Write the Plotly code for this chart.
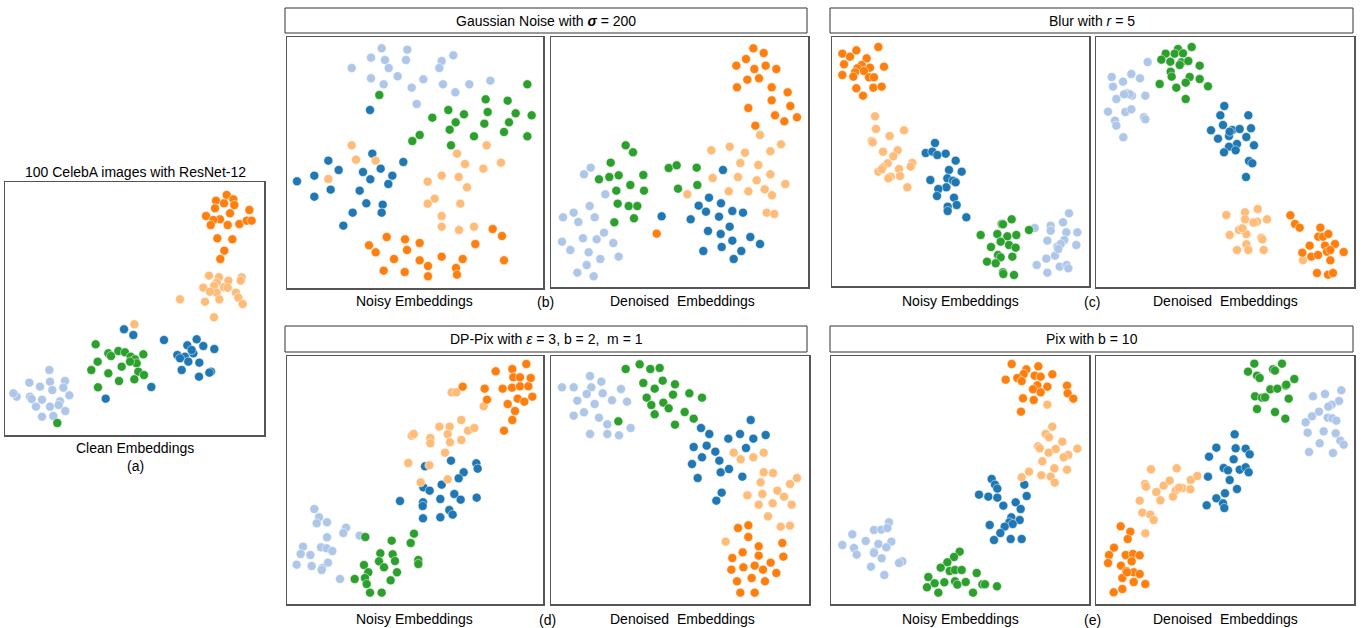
import plotly.graph_objects as go

# ---------------- data (embedding coordinates) ----------------
# Panel (a): clean embeddings
a_orange = [(680,105),(648,122),(672,130),(700,118),(703,135),(645,145),(690,160),(618,168),(660,178),(640,180),
            (748,150),(632,195),(683,195),(718,192),(740,182),(755,182),(652,235),(697,238),(673,272),(661,297)]
a_lorange = [(627,347),(657,352),(650,368),(685,362),(725,352),(722,362),(610,383),(642,378),(672,382),(683,383),
             (650,398),(658,418),(615,425),(708,398),(715,413),(728,432),(540,418),(642,472),(403,493),(630,395)]
a_blue = [(372,508),(400,525),(492,540),(590,538),(562,556),(610,558),(643,567),(532,585),(555,590),(580,580),
          (540,595),(598,608),(545,630),(565,605),(633,635),(597,650),(454,681),(317,716),(575,570),(628,638)]
a_green = [(287,553),(325,580),(355,573),(375,577),(333,588),(430,583),(392,590),(405,598),(293,605),(365,620),
           (410,610),(274,630),(325,640),(415,635),(432,645),(357,663),(403,658),(294,682),(172,789),(390,605)]
a_lblue = [(148,630),(88,668),(150,665),(195,663),(120,680),(157,690),(190,683),(50,710),(90,710),(95,717),
           (126,719),(208,706),(180,724),(108,740),(150,740),(176,735),(196,753),(126,770),(160,768),(40,700)]

# Panel (b) noisy
bn_lblue = [(290,40),(367,44),(258,68),(300,75),(363,75),(505,61),(470,78),(200,99),(311,99),(463,99),
            (338,124),(258,130),(415,133),(296,148),(380,158),(474,148),(553,148),(616,137),(511,172),(395,207)]
bn_green = [(727,148),(283,180),(602,193),(668,197),(490,225),(537,238),(608,231),(692,235),(740,241),(442,248),
            (512,262),(598,266),(672,262),(494,284),(657,291),(404,300),(567,304),(727,304),(382,318),(498,331)]
bn_blue = [(255,225),(262,356),(130,377),(355,381),(161,405),(287,401),(234,411),(88,422),(322,422),(36,439),
           (256,433),(310,447),(137,464),(224,467),(88,485),(244,505),(293,509),(203,533),(290,533),(175,572)]
bn_lorange = [(200,331),(605,331),(516,356),(213,374),(272,377),(540,387),(648,383),(595,401),(130,432),(470,422),
              (521,426),(428,440),(546,457),(449,491),(428,506),(526,506),(470,543),(470,575),(522,585),(567,575)]
bn_orange = [(623,582),(651,603),(305,606),(360,613),(404,624),(571,627),(252,631),(366,645),(272,652),(327,672),
             (404,676),(470,665),(533,672),(657,676),(429,693),(513,699),(296,707),(359,711),(429,724),(516,719)]

# Panel (b) denoised
bd_orange = [(616,40),(647,54),(594,72),(565,92),(619,102),(653,92),(685,102),(598,134),(633,130),(567,157),
             (671,157),(719,172),(671,196),(727,213),(601,219),(681,241),(709,259),(747,247),(622,272),(326,596)]
bd_lorange = [(636,300),(545,335),(490,346),(591,353),(699,328),(667,349),(577,384),(631,390),(494,429),(570,426),
              (667,418),(626,436),(712,447),(542,469),(601,469),(650,463),(672,481),(418,478),(656,533),(679,537)]
bd_green = [(233,331),(255,352),(188,383),(153,433),(184,426),(212,421),(286,420),(247,450),(205,467),(288,467),
            (209,506),(242,513),(268,513),(258,550),(199,562),(362,399),(386,391),(446,398),(390,461),(448,450)]
bd_blue = [(525,405),(483,488),(452,512),(519,505),(474,530),(513,545),(553,528),(585,533),(341,544),(428,553),
           (545,575),(480,588),(518,597),(553,617),(607,606),(636,627),(466,648),(521,636),(580,648),(557,672)]
bd_lblue = [(128,398),(108,418),(172,478),(125,513),(45,547),(77,533),(91,561),(140,547),(168,593),(105,610),
            (146,613),(42,620),(67,645),(122,652),(196,624),(157,672),(212,665),(116,690),(88,713),(137,724)]

# Panel (c) noisy
cn_orange = [(148,36),(40,56),(82,46),(63,65),(113,70),(45,88),(98,90),(85,100),(123,98),(165,95),
             (105,108),(78,112),(40,120),(73,125),(120,127),(135,127),(82,160),(133,158),(158,155),(102,182)]
cn_lorange = [(138,244),(141,282),(225,286),(182,303),(128,318),(131,322),(206,346),(162,350),(193,364),(176,385),
              (250,384),(245,395),(162,397),(148,410),(210,402),(185,425),(213,423),(178,430),(235,457),(158,403)]
cn_blue = [(318,324),(290,354),(310,350),(325,360),(350,356),(380,377),(398,410),(360,405),(355,430),(372,437),
           (380,442),(304,435),(352,457),(328,462),(324,483),(375,488),(383,510),(356,515),(356,528),(412,547)]
cn_green = [(548,553),(518,567),(522,568),(600,585),(455,600),(505,597),(535,604),(562,600),(515,620),(540,630),
            (486,636),(560,638),(507,660),(550,665),(515,667),(474,680),(500,685),(522,712),(555,720),(523,717)]
cn_lblue = [(720,535),(617,579),(665,572),(702,562),(745,592),(665,587),(712,592),(655,617),(706,615),(685,635),
            (742,630),(695,627),(678,662),(652,671),(623,690),(692,695),(713,690),(718,700),(655,713),(688,642)]

# Panel (c) denoised
cd_green = [(296,36),(218,56),(255,42),(245,56),(270,55),(205,74),(232,80),(265,82),(286,78),(320,92),
            (260,90),(233,110),(236,125),(290,126),(320,132),(200,147),(250,158),(278,143),(345,154),(278,192)]
cd_lblue = [(164,81),(56,126),(115,117),(141,130),(90,140),(60,155),(102,175),(117,182),(157,182),(70,192),
            (97,231),(115,223),(45,230),(66,257),(153,247),(157,253),(70,272),(91,307),(110,178),(93,178)]
cd_blue = [(394,213),(382,241),(466,241),(390,270),(418,285),(440,282),(474,280),(354,286),(408,303),(375,311),
           (460,306),(432,327),(408,335),(393,352),(428,346),(483,331),(468,378),(478,385),(459,426),(410,290)]
cd_lorange = [(400,540),(456,532),(494,522),(456,553),(480,562),(492,560),(522,553),(438,585),(450,582),(460,597),
              (410,600),(505,608),(508,613),(460,628),(432,645),(466,645),(512,645),(630,675),(448,580),(482,563)]
cd_orange = [(592,541),(606,567),(620,578),(682,578),(676,605),(690,605),(706,597),(650,632),(696,632),(726,627),
             (628,653),(655,665),(675,660),(702,650),(712,645),(752,651),(712,676),(672,714),(705,719),(720,714)]

# Panel (d) noisy
dn_orange = [(724,30),(632,52),(682,45),(737,72),(685,70),(705,70),(533,98),(599,104),(653,104),(681,101),
             (705,97),(730,97),(606,137),(668,150),(698,134),(718,143),(742,128),(690,171),(682,198),(657,230)]
dn_lorange = [(500,115),(514,115),(596,157),(529,198),(463,218),(494,218),(549,230),(568,222),(380,245),(386,240),
              (436,252),(488,240),(436,268),(495,265),(529,258),(480,296),(370,327),(433,334),(488,376),(407,385)]
dn_blue = [(498,320),(574,328),(578,344),(420,337),(536,355),(521,373),(415,400),(434,410),(470,392),(508,420),
           (527,437),(575,431),(345,441),(414,445),(413,456),(466,435),(493,468),(503,482),(414,493),(466,490)]
dn_lblue = [(88,465),(102,490),(95,508),(126,505),(183,521),(175,537),(126,550),(224,545),(54,578),(108,580),
            (125,583),(142,591),(47,600),(76,603),(35,632),(80,636),(129,626),(112,642),(110,648),(165,675)]
dn_green = [(241,549),(387,539),(320,560),(377,567),(286,598),(323,601),(282,622),(330,621),(400,618),(400,630),
            (237,633),(297,640),(250,655),(336,655),(209,675),(240,672),(245,690),(317,679),(255,716),(290,716)]

# Panel (d) denoised
dd_lblue = [(126,66),(160,83),(42,100),(77,100),(130,100),(116,120),(164,118),(219,105),(88,140),(140,150),
            (192,139),(237,143),(77,185),(108,175),(153,191),(178,211),(248,222),(126,240),(178,240),(213,244)]
dd_green = [(233,45),(275,31),(307,45),(335,42),(286,87),(344,80),(381,91),(320,104),(375,122),(424,118),
            (462,131),(296,131),(346,146),(310,153),(362,163),(320,181),(410,174),(437,194),(381,212),(211,202)]
dd_blue = [(608,198),(459,222),(484,240),(541,254),(576,240),(616,254),(653,243),(437,279),(476,275),(502,293),
           (594,282),(462,310),(514,320),(432,330),(518,355),(543,345),(583,368),(449,372),(521,416),(505,440)]
dd_lorange = [(557,296),(578,316),(616,310),(647,296),(647,355),(675,357),(638,385),(747,372),(726,390),(688,410),
              (598,424),(643,420),(708,428),(632,452),(674,448),(731,452),(660,487),(698,518),(726,515),(533,563)]
dd_orange = [(570,522),(601,514),(601,549),(632,577),(703,567),(584,595),(632,605),(553,612),(706,608),(668,626),
             (550,647),(586,640),(620,635),(645,647),(685,657),(567,682),(611,672),(651,682),(577,716),(620,716)]

# Panel (e) noisy
en_orange = [(548,30),(628,37),(592,46),(584,60),(565,72),(530,77),(617,65),(635,68),(670,61),(578,81),
             (625,94),(612,106),(655,98),(714,95),(716,118),(733,134),(582,133),(614,138),(635,115),(576,173)]
en_lorange = [(655,152),(670,218),(650,240),(660,250),(700,263),(627,277),(632,283),(680,285),(659,296),(745,284),
              (718,303),(704,310),(640,322),(676,343),(714,347),(600,353),(578,370),(637,364),(665,368),(677,386)]
en_blue = [(488,375),(498,392),(505,404),(586,392),(450,422),(478,428),(505,431),(593,426),(560,445),(523,455),
           (575,465),(547,490),(572,498),(541,505),(551,510),(482,513),(527,518),(514,537),(495,558),(545,555),(578,555)]
en_lblue = [(180,505),(135,528),(157,527),(175,522),(70,541),(110,561),(148,570),(187,563),(40,573),(172,580),
            (75,582),(135,593),(83,602),(158,613),(215,624),(220,622),(126,638),(166,663),(135,597),(210,627)]
en_green = [(392,593),(375,609),(355,625),(335,641),(362,651),(378,648),(398,648),(298,669),(443,657),(317,688),
            (346,685),(378,682),(385,692),(410,684),(460,691),(468,691),(294,700),(504,697),(328,716),(432,716)]

# Panel (e) denoised
ed_green = [(484,29),(567,29),(465,53),(540,46),(492,65),(500,72),(604,75),(532,106),(553,104),(578,95),
            (486,127),(507,131),(517,130),(587,134),(492,165),(546,174),(577,194),(546,50),(580,92),(516,130)]
ed_lblue = [(745,109),(660,127),(696,120),(738,141),(716,152),(706,158),(678,173),(657,187),(704,191),(718,193),
            (638,205),(644,236),(692,232),(728,238),(680,268),(742,260),(752,272),(648,294),(720,297),(730,200)]
ed_blue = [(425,241),(370,281),(428,283),(458,284),(470,301),(348,308),(422,316),(392,342),(405,349),(440,347),
           (458,340),(467,355),(345,368),(410,378),(432,405),(396,418),(370,433),(390,448),(394,462),(341,454)]
ed_lorange = [(174,346),(251,343),(156,390),(159,398),(212,395),(230,380),(190,414),(248,410),(268,402),(292,406),
              (293,378),(313,366),(202,439),(240,428),(140,440),(148,476),(172,482),(182,498),(157,538),(258,401)]
ed_orange = [(83,517),(112,533),(104,555),(63,581),(48,603),(98,603),(120,600),(140,604),(45,627),(116,622),
             (84,635),(100,651),(122,655),(140,660),(88,672),(122,684),(157,690),(62,715),(88,705),(102,655)]

CLASS_COLORS = {"blue": "#1f77b4", "orange": "#ff7f0e", "green": "#2ca02c",
                "lblue": "#aec7e8", "lorange": "#ffbb78"}

# ---------------- layout ----------------
W, H = 1367, 628
# (series, box in px [x0,y0,x1,y1], zoom-origin [ox,oy])
panels = [
    ({"lblue": a_lblue, "green": a_green, "blue": a_blue, "lorange": a_lorange, "orange": a_orange},
     (5, 182, 264, 435), (0, 160)),
    ({"lblue": bn_lblue, "green": bn_green, "blue": bn_blue, "lorange": bn_lorange, "orange": bn_orange},
     (287, 37, 543, 288), (285, 35)),
    ({"lblue": bd_lblue, "green": bd_green, "blue": bd_blue, "lorange": bd_lorange, "orange": bd_orange},
     (551, 37, 808, 287), (548, 35)),
    ({"lblue": cn_lblue, "green": cn_green, "blue": cn_blue, "lorange": cn_lorange, "orange": cn_orange},
     (832, 37, 1089, 286), (829, 35)),
    ({"lblue": cd_lblue, "green": cd_green, "blue": cd_blue, "lorange": cd_lorange, "orange": cd_orange},
     (1096, 37, 1354, 287), (1093, 35)),
    ({"lblue": dn_lblue, "green": dn_green, "blue": dn_blue, "lorange": dn_lorange, "orange": dn_orange},
     (287, 356, 543, 604), (285, 354)),
    ({"lblue": dd_lblue, "green": dd_green, "blue": dd_blue, "lorange": dd_lorange, "orange": dd_orange},
     (551, 356, 809, 604), (548, 354)),
    ({"lblue": en_lblue, "green": en_green, "blue": en_blue, "lorange": en_lorange, "orange": en_orange},
     (831, 356, 1089, 604), (829, 354)),
    ({"lblue": ed_lblue, "green": ed_green, "blue": ed_blue, "lorange": ed_lorange, "orange": ed_orange},
     (1096, 356, 1354, 604), (1093, 354)),
]

fig = go.Figure()
layout_axes = {}
for i, (series, box, org) in enumerate(panels):
    suf = "" if i == 0 else str(i + 1)
    x0, y0, x1, y1 = box
    ox, oy = org
    for cls, pts in series.items():
        fig.add_trace(go.Scatter(
            x=[p[0] for p in pts], y=[p[1] for p in pts], mode="markers",
            marker=dict(color=CLASS_COLORS[cls], size=9, line=dict(color="white", width=0.5)),
            xaxis="x" + suf, yaxis="y" + suf, showlegend=False, hoverinfo="skip"))
    common = dict(showline=True, mirror=True, linecolor="#555555", linewidth=1.5,
                  showgrid=False, zeroline=False, showticklabels=False, ticks="", fixedrange=True)
    layout_axes["xaxis" + suf] = dict(domain=[x0 / W, x1 / W], range=[(x0 - ox) * 3, (x1 - ox) * 3],
                                      anchor="y" + suf, **common)
    layout_axes["yaxis" + suf] = dict(domain=[1 - y1 / H, 1 - y0 / H], range=[(y1 - oy) * 3, (y0 - oy) * 3],
                                      anchor="x" + suf, **common)

fig.update_layout(**layout_axes)

FONT = "Liberation Sans, Arial, sans-serif"
shapes = []
annotations = []
title_boxes = [
    ((285, 8, 807, 33), "Gaussian Noise with <b><i>σ</i></b> = 200"),
    ((830, 8, 1353, 33), "Blur with <i>r</i> = 5"),
    ((285, 326, 807, 352), "DP-Pix with <i>ε</i> = 3, b = 2,  m = 1"),
    ((830, 326, 1353, 352), "Pix with b = 10"),
]
for (bx0, by0, bx1, by1), txt in title_boxes:
    shapes.append(dict(type="rect", xref="paper", yref="paper",
                       x0=bx0 / W, x1=bx1 / W, y0=1 - by1 / H, y1=1 - by0 / H,
                       line=dict(color="#333333", width=1), fillcolor="rgba(0,0,0,0)"))
    annotations.append(dict(x=(bx0 + bx1) / 2 / W, y=1 - (by0 + by1) / 2 / H, xref="paper", yref="paper",
                            text=txt, showarrow=False, font=dict(size=14, color="black", family=FONT),
                            xanchor="center", yanchor="middle"))

texts = [
    (135, 172, "100 CelebA images with ResNet-12"),
    (135, 448, "Clean Embeddings"),
    (135, 466, "(a)"),
    (415, 301, "Noisy Embeddings"), (545, 302, "(b)"), (682, 301, "Denoised  Embeddings"),
    (960, 301, "Noisy Embeddings"), (1092, 302, "(c)"), (1225, 301, "Denoised  Embeddings"),
    (415, 619, "Noisy Embeddings"), (547, 620, "(d)"), (682, 619, "Denoised  Embeddings"),
    (960, 619, "Noisy Embeddings"), (1092, 620, "(e)"), (1225, 619, "Denoised  Embeddings"),
]
for tx, ty, t in texts:
    annotations.append(dict(x=tx / W, y=1 - ty / H, xref="paper", yref="paper", text=t, showarrow=False,
                            font=dict(size=14, color="black", family=FONT),
                            xanchor="center", yanchor="middle"))

fig.update_layout(width=W, height=H, margin=dict(l=0, r=0, t=0, b=0),
                  paper_bgcolor="white", plot_bgcolor="white",
                  shapes=shapes, annotations=annotations)

fig.write_html("out.html", config={"displayModeBar": False, "staticPlot": True},
               post_script="document.body.style.margin='0';document.body.style.overflow='hidden';")
